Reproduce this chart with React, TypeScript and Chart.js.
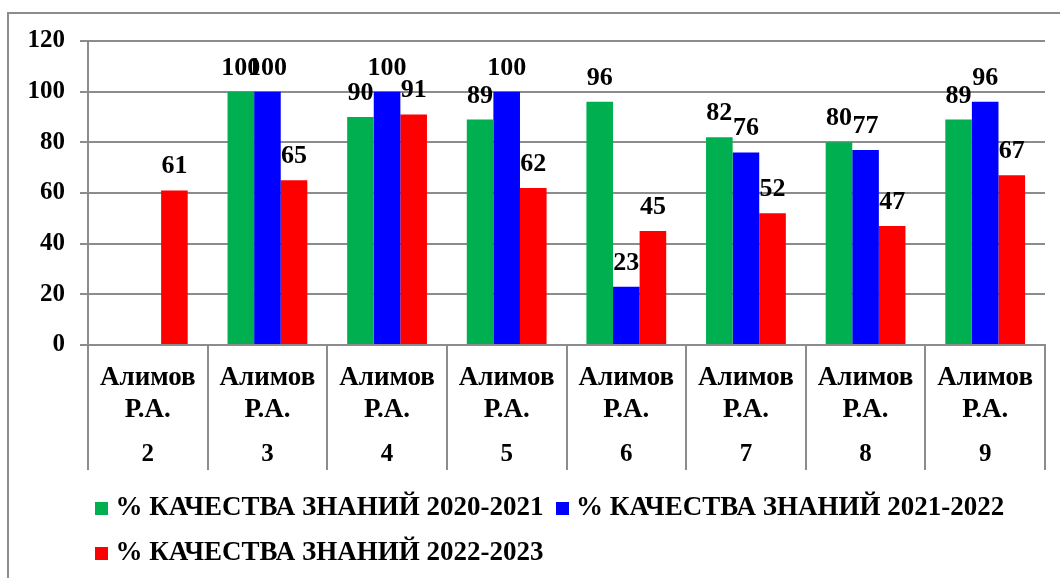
import React, { useEffect, useRef } from "react";
import { Chart, registerables } from "chart.js";

Chart.register(...registerables);

// ---- data ----
const teacherNames = ["Алимов Р.А.", "Алимов Р.А.", "Алимов Р.А.", "Алимов Р.А.", "Алимов Р.А.", "Алимов Р.А.", "Алимов Р.А.", "Алимов Р.А."];
const gradeLabels = ["2", "3", "4", "5", "6", "7", "8", "9"];
const quality2020_2021: (number | null)[] = [null, 100, 90, 89, 96, 82, 80, 89];
const quality2021_2022: (number | null)[] = [null, 100, 100, 100, 23, 76, 77, 96];
const quality2022_2023: (number | null)[] = [61, 65, 91, 62, 45, 52, 47, 67];
const seriesNames = ["% КАЧЕСТВА ЗНАНИЙ 2020-2021", "% КАЧЕСТВА ЗНАНИЙ 2021-2022", "% КАЧЕСТВА ЗНАНИЙ 2022-2023"];
const seriesColors = ["#00B050", "#0000FF", "#FF0000"];
const yMin = 0;
const yMax = 120;
const yStep = 20;

const FONT = "'Liberation Serif', 'Times New Roman', serif";
const GRID = "#8c8c8c";

const framePlugin = {
  id: "frame",
  beforeDraw(chart: any) {
    const ctx = chart.ctx;
    ctx.save();
    ctx.fillStyle = "#ffffff";
    ctx.fillRect(0, 0, chart.width, chart.height);
    ctx.strokeStyle = GRID;
    ctx.lineWidth = 2;
    ctx.strokeRect(8, 13, chart.width + 20, chart.height + 20);
    ctx.restore();
    // start the legend rows under the plot, like the original
    if (chart.legend) chart.legend.left = 83;
  },
};

const valueLabelPlugin = {
  id: "valueLabels",
  afterDatasetsDraw(chart: any) {
    const ctx = chart.ctx;
    ctx.save();
    ctx.font = `bold 26px ${FONT}`;
    ctx.fillStyle = "#000";
    ctx.textAlign = "center";
    ctx.textBaseline = "alphabetic";
    chart.data.datasets.forEach((ds: any, di: number) => {
      const meta = chart.getDatasetMeta(di);
      meta.data.forEach((el: any, i: number) => {
        const v = ds.data[i];
        if (v === null || v === undefined) return;
        ctx.fillText(String(v), el.x, el.y - 17);
      });
    });
    ctx.restore();
  },
};

const categoryLabelPlugin = {
  id: "categoryLabels",
  afterDraw(chart: any) {
    const xs = chart.scales.x;
    const ctx = chart.ctx;
    ctx.save();
    ctx.fillStyle = "#000";
    ctx.textAlign = "center";
    ctx.textBaseline = "middle";
    gradeLabels.forEach((g, i) => {
      const x = xs.getPixelForValue(i);
      const parts = teacherNames[i].split(" ");
      ctx.font = `bold 27px ${FONT}`;
      ctx.fillText(parts[0], x, xs.top + 33);
      ctx.fillText(parts[1], x, xs.top + 65);
      ctx.font = `bold 25px ${FONT}`;
      ctx.fillText(g, x, xs.top + 110);
    });
    ctx.restore();
  },
};

function makeSwatch(color: string) {
  const c = document.createElement("canvas");
  c.width = 13;
  c.height = 13;
  const cx = c.getContext("2d");
  if (cx) {
    cx.fillStyle = color;
    cx.fillRect(0, 0, 13, 13);
  }
  return c;
}

export default function App() {
  const ref = useRef<HTMLCanvasElement | null>(null);
  useEffect(() => {
    if (!ref.current) return;
    const swatches = seriesColors.map(makeSwatch);
    const chart = new Chart(ref.current, {
      type: "bar",
      data: {
        labels: gradeLabels,
        datasets: [quality2020_2021, quality2021_2022, quality2022_2023].map((d, i) => ({
          label: seriesNames[i],
          data: d,
          backgroundColor: seriesColors[i],
          borderWidth: 0,
          barPercentage: 1,
          categoryPercentage: 0.667,
        })),
      },
      options: {
        responsive: false,
        animation: false,
        events: [],
        layout: { padding: { left: 8, right: 15, top: 41, bottom: 1 } },
        plugins: {
          legend: {
            position: "bottom",
            align: "start",
            labels: {
              usePointStyle: true,
              boxWidth: 1,
              boxHeight: 13,
              padding: 18,
              color: "#000",
              font: { family: FONT, size: 27, weight: "bold" },
              generateLabels: (ch: any) =>
                ch.data.datasets.map((ds: any, i: number) => ({
                  text: ds.label,
                  datasetIndex: i,
                  fillStyle: seriesColors[i],
                  strokeStyle: seriesColors[i],
                  lineWidth: 0,
                  hidden: false,
                  pointStyle: swatches[i],
                  fontColor: "#000",
                })),
            },
          },
          tooltip: { enabled: false },
        },
        scales: {
          x: {
            type: "category",
            offset: true,
            grid: { offset: true, drawOnChartArea: false, drawTicks: true, tickLength: 125, color: GRID, lineWidth: 2 },
            border: { color: GRID, width: 2 },
            ticks: { display: false },
            afterFit: (s: any) => { s.height = 132; },
          },
          y: {
            min: yMin,
            max: yMax,
            ticks: { stepSize: yStep, color: "#000", padding: 15, font: { family: FONT, size: 25, weight: "bold" } },
            grid: { color: GRID, lineWidth: 2, tickLength: 8 },
            border: { color: GRID, width: 2 },
            afterFit: (s: any) => { s.width = 80; },
          },
        },
      },
      plugins: [framePlugin, valueLabelPlugin, categoryLabelPlugin],
    });
    return () => chart.destroy();
  }, []);
  return (
    <div style={{ position: "fixed", left: 0, top: 0, width: 1060, height: 578, overflow: "hidden", background: "#fff" }}>
      <canvas ref={ref} width={1060} height={578} style={{ display: "block" }} />
    </div>
  );
}
